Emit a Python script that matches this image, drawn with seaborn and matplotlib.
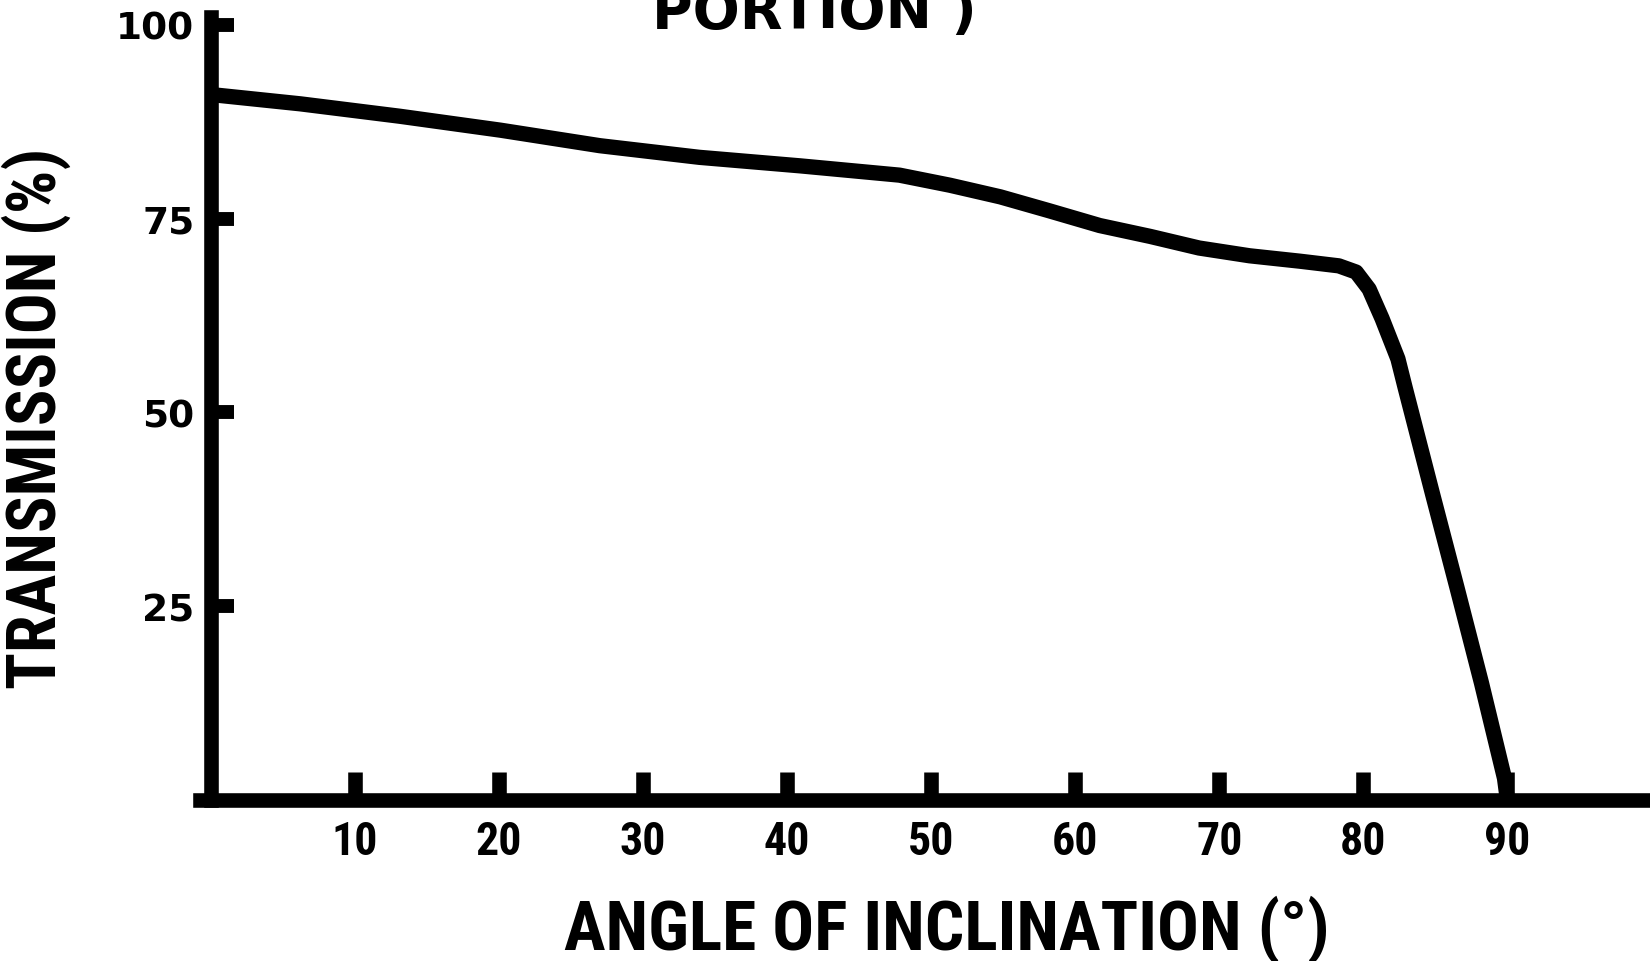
"""
Transmission vs. angle of inclination, redrawn from a scanned figure.
"""

import pandas as pd
import matplotlib
matplotlib.use('Agg')
import matplotlib.pyplot as plt
import seaborn as sns

# Values
angle = [0, 6.2, 13.1, 20.1, 27.0, 33.9, 40.9, 47.8, 51.3, 54.8, 58.2,
         61.7, 65.2, 68.6, 72.1, 75.6, 78.3, 79.5, 80.4, 81.3, 82.4, 82.9,
         84.8, 86.5, 88.2, 89.8, 90]
transmission = [91.0, 89.8, 88.2, 86.4, 84.4, 82.9, 81.8, 80.6, 79.3, 77.8,
                76.0, 74.1, 72.7, 71.2, 70.2, 69.5, 68.9, 68.1, 65.9, 62.1,
                56.9, 53.2, 39.5, 27.4, 15.1, 2.8, 0.0]

x_ticks = [10, 20, 30, 40, 50, 60, 70, 80, 90]
y_ticks = [25, 50, 75, 100]
y_tick_labels = ['25', '50', '75', '100']

df = pd.DataFrame({'angle': angle, 'transmission': transmission})

sns.set_style('white')
plt.rcParams['font.family'] = ['DejaVu Sans']
plt.rcParams['text.color'] = 'black'
plt.rcParams['axes.labelcolor'] = 'black'

narrow = ['Roboto Condensed', 'DejaVu Sans']

fig = plt.figure(figsize=(16.5, 9.62), dpi=100)
ax = fig.add_axes([200 / 1650, 161 / 962, 1450 / 1650, 783 / 962])

sns.lineplot(data=df, x='angle', y='transmission', ax=ax, color='black',
             linewidth=11, solid_capstyle='butt', solid_joinstyle='round',
             sort=False, clip_on=False)

ax.set_xlim(-0.76, 99.9)
ax.set_ylim(0, 101)

# axis lines
for side in ['top', 'right']:
    ax.spines[side].set_visible(False)
ax.spines['left'].set_position(('data', 0))
ax.spines['left'].set_bounds(0, 101)
for side in ['left', 'bottom']:
    ax.spines[side].set_linewidth(10.5)
    ax.spines[side].set_color('black')
    ax.spines[side].set_capstyle('projecting')

ax.set_xticks(x_ticks)
ax.set_xticklabels([str(v) for v in x_ticks])
ax.set_yticks(y_ticks)
ax.set_yticklabels(y_tick_labels)

ax.tick_params(axis='x', direction='in', length=20, width=10.5, pad=14,
               colors='black', bottom=True)
ax.tick_params(axis='y', direction='in', length=16.5, width=10, pad=12,
               colors='black', left=True)
for lab in ax.get_xticklabels():
    lab.set_fontfamily(narrow)
    lab.set_fontweight('bold')
    lab.set_fontsize(33)
for lab in ax.get_yticklabels():
    lab.set_fontweight('bold')
    lab.set_fontsize(27)

ax.set_xlabel('ANGLE OF INCLINATION (°)', fontsize=50, fontweight='bold',
              family=narrow)
ax.xaxis.set_label_coords(0.515, -0.120)
ax.set_ylabel('TRANSMISSION (%)', fontsize=49, fontweight='bold',
              family=narrow)
ax.yaxis.set_label_coords(-0.089, 0.489)

ax.grid(False)

# title text, cut off by the top of the scan
fig.text(0.395, 0.971, 'PORTION )', fontsize=40, fontweight='bold',
         ha='left', va='baseline')

fig.savefig('out.png', dpi=100, facecolor='white')
plt.close(fig)
